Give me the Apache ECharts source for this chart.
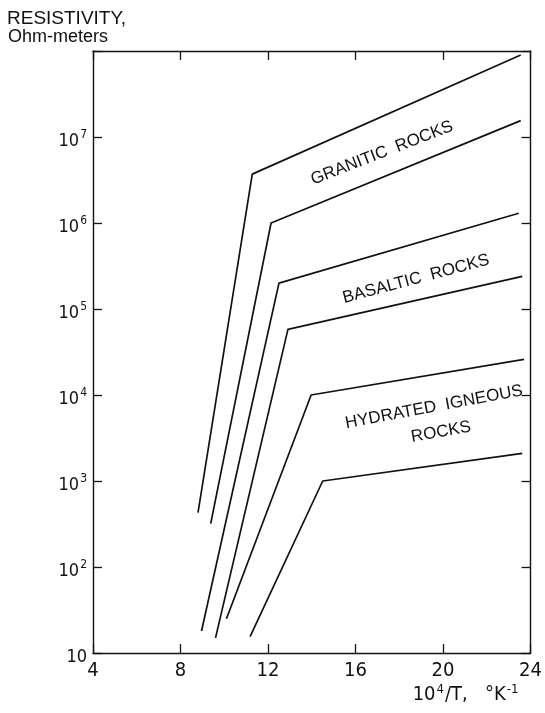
<!DOCTYPE html>
<html>
<head>
<meta charset="utf-8">
<script src="https://cdn.jsdelivr.net/npm/echarts@6/dist/echarts.min.js"></script>
<style>
html,body{margin:0;padding:0;background:#fff;}
#c{width:545px;height:713px;}
</style>
</head>
<body>
<div id="c"></div>
<script>
// x values: 10^4/T (°K^-1); y values: resistivity (Ohm-meters)
const granite1X = [8.8, 11.28, 23.55];
const granite1Y = [430, 3.7e6, 9.0e7];
const granite2X = [9.38, 12.14, 23.55];
const granite2Y = [320, 1.0e6, 1.55e7];
const basalt1X = [8.96, 12.5, 23.46];
const basalt1Y = [18, 2.0e5, 1.3e6];
const basalt2X = [9.6, 12.91, 23.62];
const basalt2Y = [15, 5.8e4, 2.4e5];
const hydr1X = [10.1, 13.97, 23.7];
const hydr1Y = [25, 1.0e4, 2.6e4];
const hydr2X = [11.18, 14.5, 23.62];
const hydr2Y = [15.5, 1.0e3, 2.1e3];

const xTicks = [4, 8, 12, 16, 20, 24];
const yTickExponents = [1, 2, 3, 4, 5, 6, 7];

const lines = [
  [granite1X, granite1Y], [granite2X, granite2Y],
  [basalt1X, basalt1Y], [basalt2X, basalt2Y],
  [hydr1X, hydr1Y], [hydr2X, hydr2Y]
];

const FONT = '"Liberation Sans Narrow", "DejaVu Sans Condensed", "Liberation Sans", Arial, sans-serif';
const FONT2 = '"Liberation Sans", Arial, sans-serif';
const INK = '#111';

const chart = echarts.init(document.getElementById('c'), null, {renderer: 'canvas'});

function yLabel(v) {
  const e = Math.round(Math.log10(v));
  if (yTickExponents.indexOf(e) < 0) return '';
  if (e === 1) return '{b|10}';
  return '{b|10}{s|' + e + '}';
}

const series = lines.map(function (l) {
  return {
    type: 'line',
    xAxisIndex: 0,
    yAxisIndex: 0,
    data: l[0].map(function (x, i) { return [x, l[1][i]]; }),
    symbol: 'none',
    lineStyle: {color: INK, width: 1.7},
    silent: true,
    animation: false
  };
});

const option = {
  backgroundColor: '#fff',
  animation: false,
  grid: {left: 93, right: 10, top: 51, bottom: 60, containLabel: false},
  xAxis: [
    {
      type: 'value', position: 'bottom', min: xTicks[0], max: xTicks[xTicks.length - 1], interval: 4,
      axisLine: {show: true, lineStyle: {color: INK, width: 1.4}},
      axisTick: {show: true, inside: true, length: 9, lineStyle: {color: INK, width: 1.3}},
      axisLabel: {show: true, margin: 8, color: INK, fontFamily: FONT, fontSize: 20},
      splitLine: {show: false}
    },
    {
      type: 'value', position: 'top', min: xTicks[0], max: xTicks[xTicks.length - 1], interval: 4,
      axisLine: {show: true, onZero: false, lineStyle: {color: INK, width: 1.4}},
      axisTick: {show: true, inside: true, length: 9, lineStyle: {color: INK, width: 1.3}},
      axisLabel: {show: false},
      splitLine: {show: false}
    }
  ],
  yAxis: [
    {
      type: 'log', logBase: 10, position: 'left', min: 10, max: 1e8,
      axisLine: {show: true, lineStyle: {color: INK, width: 1.4}},
      axisTick: {show: true, inside: true, length: 9, lineStyle: {color: INK, width: 1.3}},
      axisLabel: {
        show: true, margin: 6, color: INK, fontFamily: FONT,
        formatter: yLabel,
        rich: {
          b: {fontSize: 18, fontFamily: FONT, color: INK, verticalAlign: 'bottom', lineHeight: 26},
          s: {fontSize: 12, fontFamily: FONT, color: INK, verticalAlign: 'bottom', lineHeight: 26, padding: [0, 0, 9, 1]}
        }
      },
      splitLine: {show: false},
      minorTick: {show: false}
    },
    {
      type: 'log', logBase: 10, position: 'right', min: 10, max: 1e8,
      axisLine: {show: true, onZero: false, lineStyle: {color: INK, width: 1.4}},
      axisTick: {show: true, inside: true, length: 9, lineStyle: {color: INK, width: 1.3}},
      axisLabel: {show: false},
      splitLine: {show: false}
    }
  ],
  series: series,
  graphic: [
    {type: 'text', left: 7, top: 9, style: {text: 'RESISTIVITY,', fontFamily: FONT2, fontSize: 19, fill: INK}},
    {type: 'text', left: 8, top: 28, style: {text: 'Ohm-meters', fontFamily: FONT2, fontSize: 18, fill: INK}},
    {type: 'text', x: 382, y: 153, rotation: 0.37,
      style: {text: 'GRANITIC  ROCKS', fontFamily: FONT2, fontSize: 17, fill: INK, align: 'center', verticalAlign: 'middle'}},
    {type: 'text', x: 416, y: 279, rotation: 0.26,
      style: {text: 'BASALTIC  ROCKS', fontFamily: FONT2, fontSize: 17, fill: INK, align: 'center', verticalAlign: 'middle'}},
    {type: 'text', x: 434, y: 407, rotation: 0.185,
      style: {text: 'HYDRATED  IGNEOUS', fontFamily: FONT2, fontSize: 17, fill: INK, align: 'center', verticalAlign: 'middle'}},
    {type: 'text', x: 441, y: 432, rotation: 0.175,
      style: {text: 'ROCKS', fontFamily: FONT2, fontSize: 17, fill: INK, align: 'center', verticalAlign: 'middle'}},
    {type: 'text', x: 466, y: 692,
      style: {
        text: '{a|10}{s|4}{a|/T,   °K}{s|-1}',
        align: 'center', verticalAlign: 'middle',
        rich: {
          a: {fontSize: 20, fontFamily: FONT, fill: INK, color: INK, verticalAlign: 'bottom', lineHeight: 26},
          s: {fontSize: 13, fontFamily: FONT, fill: INK, color: INK, verticalAlign: 'bottom', lineHeight: 26, padding: [0, 1, 9, 1]}
        }
      }}
  ]
};

chart.setOption(option);
</script>
</body>
</html>
